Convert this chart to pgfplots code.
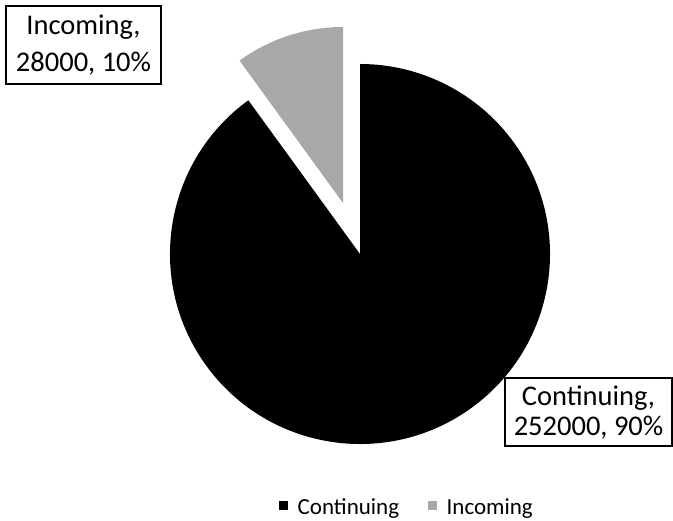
\documentclass[border=0pt]{standalone}
\usepackage{pgfplots}
\pgfplotsset{compat=1.18}
\usepackage{fontspec}
\setmainfont{Carlito}
\definecolor{incgray}{HTML}{A8A8A8}
\begin{document}
\begin{tikzpicture}
\def\vCont{252000}
\def\vInc{28000}
\edef\span{\fpeval{360*\vInc/(\vCont+\vInc)}}
\edef\aStart{\fpeval{90+\span}}
\begin{axis}[
  x=1bp, y=1bp, xmin=0, xmax=673, ymin=0, ymax=521,
  hide axis, clip=false,
  legend columns=2,
  legend style={draw=none, fill=none, at={(axis cs:279,14)}, anchor=west,
    font=\fontsize{23bp}{26bp}\selectfont,
    nodes={inner sep=0pt},
    /tikz/every odd column/.append style={column sep=10bp},
    /tikz/every even column/.append style={column sep=29bp},
    inner sep=0pt},
  legend image code/.code={\path[#1] (0bp,-3bp) rectangle (8.5bp,5.5bp);},
]
% Continuing slice (data-driven angles)
\fill[black] (axis cs:360,267) -- ++(\aStart:190bp) arc[start angle=\aStart, end angle=450, radius=190bp] -- cycle;
% Incoming slice, exploded
\fill[incgray] (axis cs:343,318) -- ++(90:176bp) arc[start angle=90, end angle=\aStart, radius=176bp] -- cycle;
\addlegendimage{fill=black, draw=none}
\addlegendentry{Continuing}
\addlegendimage{fill=incgray, draw=none}
\addlegendentry{Incoming}
\node[draw=black, line width=1.2bp, fill=white, minimum width=155bp, minimum height=78bp,
  align=center, inner sep=0pt, font=\fontsize{28.5bp}{37bp}\selectfont]
  at (axis cs:83.5,476) {Incoming,\\28000, 10\%};
\node[draw=black, line width=1.2bp, fill=white, minimum width=167bp, minimum height=68bp,
  align=center, inner sep=0pt, font=\fontsize{28.5bp}{30bp}\selectfont]
  at (axis cs:588.5,109) {Continuing,\\252000, 90\%};
\end{axis}
\pgfresetboundingbox
\path (0,0) rectangle (673bp,521bp);
\end{tikzpicture}
\end{document}
